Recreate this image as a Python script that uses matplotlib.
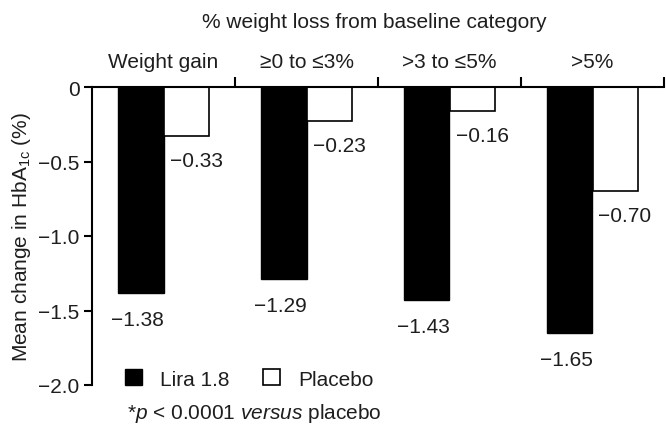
import matplotlib
matplotlib.use("Agg")
import matplotlib.pyplot as plt
from matplotlib.ticker import FixedLocator, FixedFormatter
import numpy as np

plt.rcParams["font.family"] = ["Liberation Sans", "DejaVu Sans"]
plt.rcParams["mathtext.fontset"] = "custom"
plt.rcParams["mathtext.rm"] = "Liberation Sans"
plt.rcParams["mathtext.it"] = "Liberation Sans:italic"
plt.rcParams["axes.unicode_minus"] = True

# Data
categories = ["Weight gain", "\u22650 to \u22643%", ">3 to \u22645%", ">5%"]
lira_values = [-1.38, -1.29, -1.43, -1.65]
placebo_values = [-0.33, -0.23, -0.16, -0.70]
series_names = ["Lira 1.8", "Placebo"]
y_ticks = [0, -0.5, -1.0, -1.5, -2.0]
y_tick_labels = ["0", "\u22120.5", "\u22121.0", "\u22121.5", "\u22122.0"]

FS = 15
TXT = "#1e1e1e"

fig = plt.figure(figsize=(6.66, 4.27), dpi=100)
ax = fig.add_axes([92 / 666, 41 / 427, 572 / 666, 298 / 427])

x = np.arange(len(categories)) + 0.5
w = 0.315
lira_bars = ax.bar(x - w / 2, lira_values, width=w, color="black",
                   edgecolor="black", linewidth=1.0, label=series_names[0])
plac_bars = ax.bar(x + w / 2, placebo_values, width=w, color="white",
                   edgecolor="black", linewidth=1.2, label=series_names[1])

ax.set_xlim(0, len(categories))
ax.set_ylim(-2.0, 0)

# Axes frame: zero line on top with group separators, left spine only
for s in ["right", "bottom"]:
    ax.spines[s].set_visible(False)
ax.spines["top"].set_linewidth(1.5)
ax.spines["left"].set_linewidth(1.5)
ax.spines["top"].set_zorder(5)

ax.xaxis.tick_top()
ax.xaxis.set_major_locator(FixedLocator([1, 2, 3, 4]))
ax.tick_params(axis="x", which="major", direction="out", length=7,
               width=1.5, labeltop=False, labelbottom=False)
ax.yaxis.set_major_locator(FixedLocator(y_ticks))
ax.yaxis.set_major_formatter(FixedFormatter(y_tick_labels))
ax.tick_params(axis="y", direction="out", length=6, width=1.5,
               labelsize=FS, labelcolor=TXT, pad=3)

ax.set_ylabel("Mean change in HbA$_{\\mathrm{1c}}$ (%)", fontsize=FS,
              color=TXT, labelpad=4)

# Category labels and heading above the zero line
for xi, cat in zip(x, categories):
    ax.annotate(cat, xy=(xi, 1), xycoords=("data", "axes fraction"),
                xytext=(0, 26), textcoords="offset pixels",
                ha="center", va="center", fontsize=FS, color=TXT)
ax.annotate("% weight loss from baseline category", xy=(0.5, 1),
            xycoords="axes fraction", xytext=(-4, 66),
            textcoords="offset pixels", ha="center", va="center",
            fontsize=FS, color=TXT)

# Value labels under each bar
def fmt(v):
    return ("\u2212" if v < 0 else "") + f"{abs(v):.2f}"

for xi, v in zip(x - w / 2, lira_values):
    ax.annotate(fmt(v), xy=(xi, v), xytext=(-4, -17),
                textcoords="offset pixels", ha="center", va="top",
                fontsize=FS, color=TXT)
for xi, v in zip(x + w / 2, placebo_values):
    ax.annotate(fmt(v), xy=(xi, v), xytext=(10, -15),
                textcoords="offset pixels", ha="center", va="top",
                fontsize=FS, color=TXT)

leg = fig.legend(handles=[lira_bars, plac_bars], labels=series_names,
                 loc="center left", bbox_to_anchor=(125 / 666, 47 / 427),
                 ncol=2, frameon=False, fontsize=FS, handlelength=0.8,
                 handleheight=0.8, handletextpad=0.9, columnspacing=1.6,
                 borderpad=0, borderaxespad=0)
for t in leg.get_texts():
    t.set_color(TXT)

fig.text(127 / 666, 13 / 427,
         "*$\\mathit{p}$ < 0.0001 $\\mathit{versus}$ placebo",
         ha="left", va="center", fontsize=FS, color=TXT)

fig.savefig("out.png", dpi=100)
